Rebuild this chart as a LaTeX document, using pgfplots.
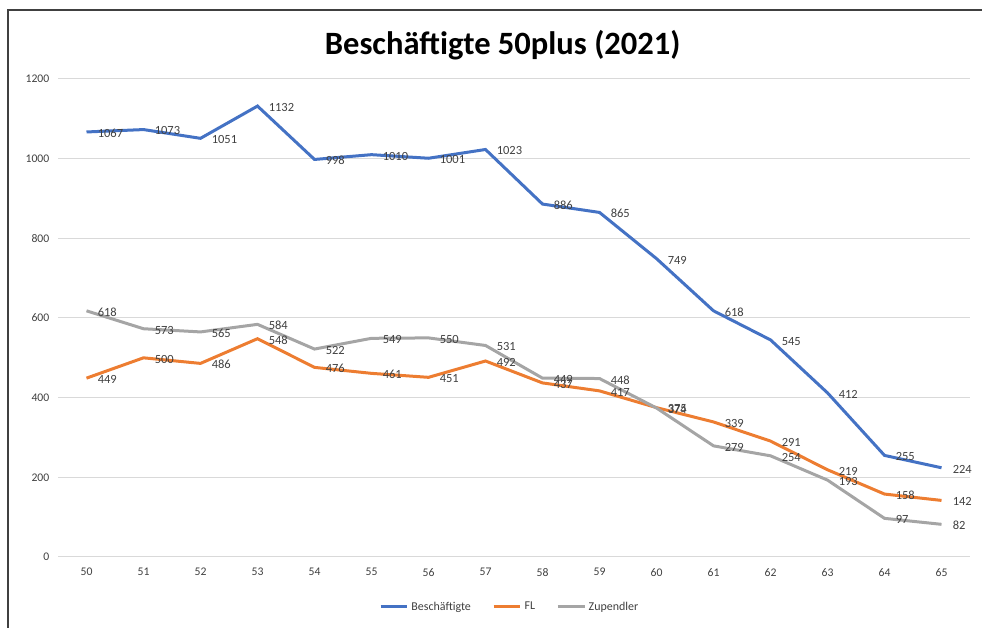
\documentclass[border=0pt]{standalone}
\usepackage{fontspec}
\setmainfont{Carlito}
\usepackage{pgfplots}
\pgfplotsset{compat=1.18}
\definecolor{cBlue}{HTML}{4472C4}
\definecolor{cOrange}{HTML}{ED7D31}
\definecolor{cGray}{HTML}{A5A5A5}
\definecolor{cGrid}{HTML}{D9D9D9}
\definecolor{cText}{HTML}{404040}
\begin{document}
\begin{tikzpicture}[x=1bp,y=1bp]
\path[use as bounding box] (0,0) rectangle (736.5,471);
\draw[black!75, line width=0.9bp] (6,0) -- (6,463.5) -- (737,463.5);
\node[font=\fontsize{24.5}{28}\selectfont\bfseries, text=black] at (377,437.25) {Beschäftigte 50plus (2021)};
\begin{axis}[
  at={(43.5bp,53.25bp)}, anchor=south west,
  scale only axis, width=684bp, height=358.5bp,
  xmin=49.5, xmax=65.5, ymin=0, ymax=1200,
  xtick={50,...,65}, ytick={0,200,...,1200},
  axis line style={draw=none},
  axis x line*=bottom, axis y line*=left,
  major tick length=0pt,
  ymajorgrids, grid style={cGrid, line width=0.75bp},
  tick label style={font=\fontsize{8.8}{10}\selectfont, text=cText},
  /pgf/number format/assume math mode=true,
  /pgf/number format/1000 sep={},
  xticklabel style={yshift=-5bp},
  yticklabel style={xshift=-3bp},
  clip=false,
  every node near coord/.append style={font=\fontsize{9.4}{11}\selectfont, text=cText, anchor=west, xshift=4bp, yshift=-1bp},
  nodes near coords,
  legend style={at={(0.4956,-0.1046)}, anchor=center, draw=none, font=\fontsize{9}{10}\selectfont, text=cText, legend columns=-1, /tikz/every even column/.append style={column sep=14bp}},
  legend image code/.code={\draw[#1, line width=2.25bp] (0bp,0bp) -- (20bp,0bp);},
]
\addplot[cBlue, line width=2.25bp, mark=none] coordinates {
(50,1067)(51,1073)(52,1051)(53,1132)(54,998)(55,1010)(56,1001)(57,1023)(58,886)(59,865)(60,749)(61,618)(62,545)(63,412)(64,255)(65,224)};
\addlegendentry{Beschäftigte}
\addplot[cOrange, line width=2.25bp, mark=none] coordinates {
(50,449)(51,500)(52,486)(53,548)(54,476)(55,461)(56,451)(57,492)(58,437)(59,417)(60,375)(61,339)(62,291)(63,219)(64,158)(65,142)};
\addlegendentry{FL}
\addplot[cGray, line width=2.25bp, mark=none] coordinates {
(50,618)(51,573)(52,565)(53,584)(54,522)(55,549)(56,550)(57,531)(58,449)(59,448)(60,374)(61,279)(62,254)(63,193)(64,97)(65,82)};
\addlegendentry{Zupendler}
\draw[cGrid, line width=0.75bp] (axis cs:49.5,0) -- (axis cs:65.5,0);
\end{axis}
\end{tikzpicture}
\end{document}
